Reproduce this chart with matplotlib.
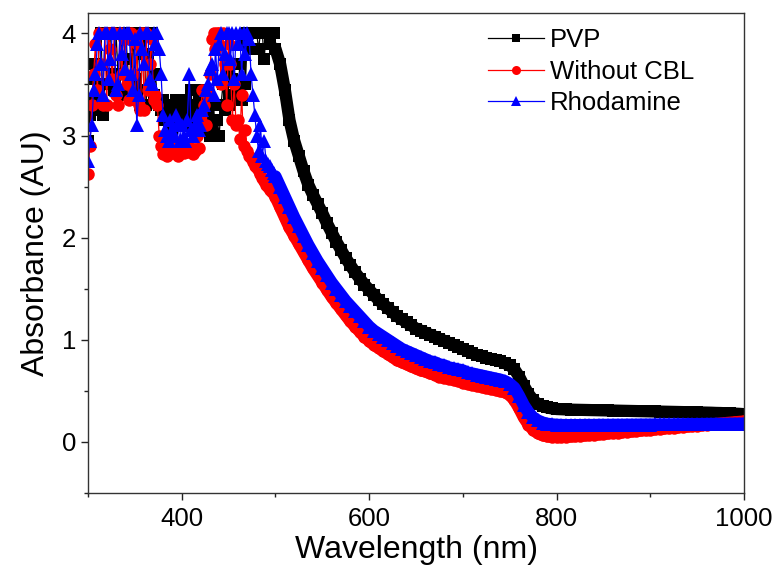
import numpy as np
import matplotlib
matplotlib.use("Agg")
import matplotlib.pyplot as plt
from matplotlib.ticker import MultipleLocator

plt.rcParams['font.family'] = ['Liberation Sans', 'DejaVu Sans']

# Wavelength grids (nm)
wl_a = np.arange(300, 500, 2)      # 300..498, saturated/noisy part
wl_b = np.arange(500, 1001, 5)     # 500..1000, smooth part

# ---------------- PVP ----------------
pvp_a = [2.95, 3.20, 3.35, 3.55, 3.70, 3.25, 3.50, 4.00, 3.20, 3.50,
         3.50, 4.00, 4.00, 3.60, 3.45, 4.00, 3.60, 3.40, 4.00, 3.45,
         4.00, 3.75, 3.40, 3.55, 4.00, 3.55, 3.45, 4.00, 3.30, 3.80,
         4.00, 3.30, 3.80, 3.45, 4.00, 3.40, 3.60, 3.35, 3.30, 3.25,
         3.35, 3.15, 3.30, 3.10, 3.25, 3.05, 3.20, 3.35, 3.20, 3.10,
         3.30, 3.25, 3.35, 3.15, 3.20, 3.45, 3.10, 3.30, 3.25, 3.35,
         3.45, 3.25, 3.35, 3.05, 3.20, 3.00, 3.05, 3.30, 3.00, 3.15,
         3.00, 3.30, 3.50, 3.25, 3.60, 3.40, 3.30, 3.55, 3.70, 3.35,
         3.40, 3.70, 3.35, 3.90, 3.50, 4.00, 4.00, 3.85, 4.00, 4.00,
         4.00, 3.85, 4.00, 4.00, 3.75, 4.00, 4.00, 3.90, 4.00, 4.00]
pvp_b = [3.85, 3.70, 3.45, 3.15, 2.95, 2.80, 2.65, 2.52, 2.42, 2.33,
         2.24, 2.14, 2.05, 1.96, 1.88, 1.80, 1.73, 1.66, 1.60, 1.54,
         1.49, 1.44, 1.39, 1.35, 1.31, 1.27, 1.23, 1.20, 1.17, 1.14,
         1.11, 1.09, 1.07, 1.05, 1.03, 1.01, 0.99, 0.97, 0.95, 0.93,
         0.91, 0.89, 0.87, 0.85, 0.84, 0.82, 0.81, 0.80, 0.79, 0.77,
         0.75, 0.71, 0.64, 0.55, 0.47, 0.41, 0.37, 0.35, 0.337, 0.328,
         0.322, 0.320, 0.318, 0.316, 0.315, 0.314, 0.313, 0.312, 0.311, 0.310,
         0.309, 0.308, 0.307, 0.306, 0.305, 0.304, 0.303, 0.302, 0.301, 0.300,
         0.299, 0.298, 0.297, 0.296, 0.295, 0.294, 0.293, 0.292, 0.291, 0.290,
         0.289, 0.288, 0.287, 0.286, 0.284, 0.283, 0.281, 0.279, 0.277, 0.275,
         0.272]

# ---------------- Without CBL ----------------
cbl_a = [2.62, 2.90, 3.30, 3.60, 3.90, 3.45, 4.00, 3.70, 3.30, 4.00,
         3.30, 4.00, 3.85, 3.55, 4.00, 3.40, 3.30, 4.00, 3.60, 3.95,
         3.95, 3.50, 3.35, 4.00, 3.60, 3.35, 3.90, 3.30, 3.25, 4.00,
         3.25, 4.00, 3.45, 3.70, 3.95, 3.35, 3.40, 3.30, 3.00, 2.90,
         2.82, 2.90, 2.80, 2.85, 2.95, 2.83, 2.90, 2.86, 2.80, 2.85,
         2.95, 2.83, 2.88, 2.84, 2.90, 2.86, 2.82, 2.85, 3.00, 2.88,
         3.20, 3.45, 3.30, 3.10, 3.40, 3.60, 3.95, 4.00, 3.85, 4.00,
         4.00, 3.50, 4.00, 3.70, 3.30, 3.90, 3.70, 3.15, 3.50, 3.10,
         3.15, 2.97, 3.40, 2.90, 3.05, 2.85, 2.80, 2.78, 2.74, 2.70,
         2.68, 2.65, 2.62, 2.58, 2.55, 2.52, 2.50, 2.47, 2.45, 2.43]
cbl_b = [2.40, 2.30, 2.20, 2.10, 2.02, 1.94, 1.86, 1.78, 1.70, 1.63,
         1.56, 1.49, 1.42, 1.36, 1.30, 1.24, 1.18, 1.13, 1.08, 1.03,
         0.99, 0.95, 0.92, 0.89, 0.86, 0.83, 0.80, 0.78, 0.76, 0.74,
         0.72, 0.70, 0.69, 0.67, 0.66, 0.64, 0.63, 0.62, 0.61, 0.60,
         0.58, 0.57, 0.56, 0.55, 0.54, 0.53, 0.52, 0.51, 0.50, 0.485,
         0.46, 0.41, 0.33, 0.24, 0.17, 0.12, 0.085, 0.065, 0.055, 0.050,
         0.048, 0.049, 0.051, 0.054, 0.057, 0.060, 0.064, 0.068, 0.072, 0.076,
         0.080, 0.084, 0.088, 0.092, 0.096, 0.100, 0.104, 0.108, 0.112, 0.116,
         0.120, 0.124, 0.128, 0.132, 0.136, 0.140, 0.144, 0.148, 0.152, 0.156,
         0.160, 0.164, 0.168, 0.172, 0.176, 0.180, 0.184, 0.188, 0.192, 0.196,
         0.200]

# ---------------- Rhodamine ----------------
rho_a = [2.75, 2.95, 3.10, 3.45, 3.60, 3.90, 4.00, 3.70, 3.40, 4.00,
         4.00, 3.55, 3.75, 4.00, 4.00, 3.45, 3.50, 4.00, 3.80, 4.00,
         3.65, 4.00, 4.00, 3.60, 3.45, 3.95, 3.10, 3.40, 4.00, 3.85,
         3.70, 4.00, 4.00, 3.55, 3.50, 4.00, 3.90, 4.00, 3.85, 3.60,
         3.20, 3.05, 3.00, 2.95, 3.15, 3.05, 3.00, 3.20, 3.10, 2.95,
         3.10, 3.00, 2.95, 3.15, 3.60, 3.05, 3.00, 3.10, 3.20, 3.05,
         3.10, 3.25, 3.30, 3.45, 3.50, 3.65, 3.70, 3.40, 3.85, 3.55,
         3.90, 4.00, 3.60, 3.80, 4.00, 4.00, 3.75, 4.00, 3.55, 4.00,
         3.90, 4.00, 3.60, 4.00, 3.80, 4.00, 3.95, 3.60, 3.40, 3.20,
         3.00, 2.85, 3.10, 2.80, 2.95, 2.75, 2.72, 2.70, 2.66, 2.63]
rho_b = [2.60, 2.50, 2.40, 2.30, 2.20, 2.11, 2.02, 1.93, 1.85, 1.77,
         1.70, 1.63, 1.56, 1.50, 1.44, 1.38, 1.33, 1.28, 1.23, 1.18,
         1.13, 1.09, 1.06, 1.03, 1.00, 0.97, 0.94, 0.91, 0.89, 0.87,
         0.85, 0.83, 0.81, 0.79, 0.78, 0.76, 0.75, 0.73, 0.72, 0.71,
         0.70, 0.68, 0.67, 0.66, 0.65, 0.64, 0.63, 0.62, 0.61, 0.595,
         0.57, 0.53, 0.45, 0.36, 0.29, 0.24, 0.21, 0.19, 0.178, 0.172,
         0.168, 0.166, 0.165, 0.165, 0.165, 0.165, 0.166, 0.166, 0.166, 0.167,
         0.167, 0.167, 0.168, 0.168, 0.168, 0.169, 0.169, 0.169, 0.170, 0.170,
         0.170, 0.171, 0.171, 0.172, 0.172, 0.172, 0.173, 0.173, 0.174, 0.174,
         0.175, 0.175, 0.176, 0.176, 0.177, 0.177, 0.178, 0.178, 0.179, 0.179,
         0.180]

labels = ["PVP", "Without CBL", "Rhodamine"]

wl = np.concatenate([wl_a, wl_b])
parts = [(pvp_a, pvp_b), (cbl_a, cbl_b), (rho_a, rho_b)]
colors = ["black", "#ff0000", "#0000ff"]
markers = ["s", "o", "^"]
msizes = [8.5, 9, 9.5]

fig = plt.figure(figsize=(7.76, 5.69), dpi=100)
ax = fig.add_axes([0.1134, 0.1336, 0.8454, 0.8436])

for (ya, yb), c, m, ms, lab in zip(parts, colors, markers, msizes, labels):
    y = np.concatenate([ya, yb])
    ax.plot(wl, y, color=c, lw=0.9, marker=m, ms=ms, mec=c, mfc=c,
            mew=0, label=lab)
    # dense overlapping markers of the smooth part form a continuous band
    ax.plot(wl_b, yb, color=c, lw=8.8, solid_joinstyle='round',
            solid_capstyle='round')

ax.set_xlim(300, 1000)
ax.set_ylim(-0.5, 4.2)
ax.xaxis.set_major_locator(MultipleLocator(200))
ax.xaxis.set_minor_locator(MultipleLocator(100))
ax.yaxis.set_major_locator(MultipleLocator(1))
ax.yaxis.set_minor_locator(MultipleLocator(0.5))
ax.tick_params(which='both', direction='out', top=False, right=False,
               labelsize=18.5, width=1.0, color='#222222')
ax.tick_params(which='major', length=5)
ax.tick_params(which='minor', length=3)
ax.tick_params(axis='x', which='major', pad=5)
for s in ax.spines.values():
    s.set_linewidth(1.0)
    s.set_color('#333333')

ax.set_xlabel("Wavelength (nm)", fontsize=23, labelpad=3)
ax.set_ylabel("Absorbance (AU)", fontsize=23, labelpad=8)

leg = ax.legend(loc='upper left', bbox_to_anchor=(0.594, 0.99), frameon=False,
                fontsize=18.5, handlelength=2.2, labelspacing=0.29,
                handletextpad=0.2, borderaxespad=0.0, markerscale=0.72)

fig.savefig("out.png", dpi=100)
